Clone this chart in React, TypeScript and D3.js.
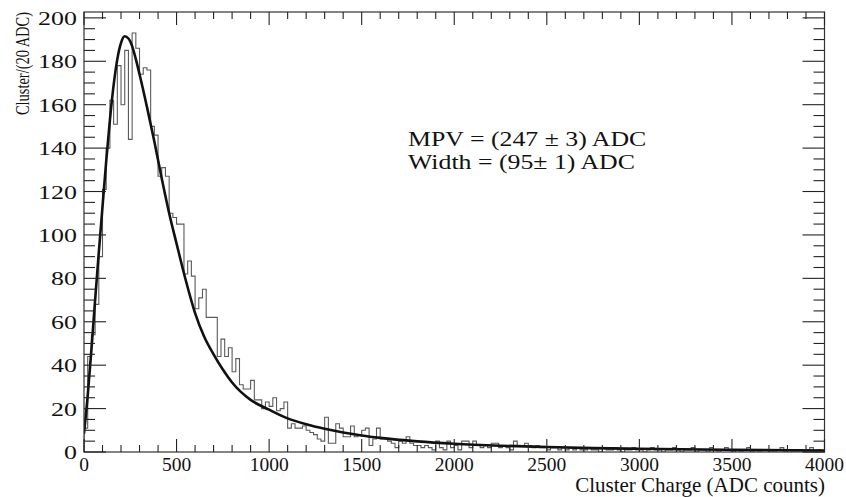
import React from "react";
import * as d3 from "d3";

// ---- data ----
const binWidth = 20;
const xDomain = [0, 4000];
const yDomain = [0, 202.7];

// counts per 20-ADC bin, 0..4000
const countsPeak = [11, 44, 54, 68, 90, 121, 140, 162, 151, 178, 160, 185, 144, 193, 186, 174, 177, 176, 150, 146,
  127, 131, 127, 110, 108, 105, 105, 82, 88, 81, 66, 71, 75, 62, 62, 62, 44, 52, 44, 48];
const countsShoulder = [37, 43, 31, 29, 29, 33, 24, 24, 20, 23, 21, 25, 19, 20, 23, 11, 13, 11, 11, 12,
  10, 9, 8, 6, 5, 16, 4, 4, 13, 11, 7, 7, 12, 7, 8, 10, 11, 3, 6, 11,
  6, 6, 5, 4, 2, 5, 4, 7, 4, 3, 3, 2, 3, 2, 1, 5, 2, 1, 5, 2];
const countsTail = [3, 1, 5, 5, 2, 5, 3, 2, 3, 2, 4, 4, 2, 3, 2, 1, 5, 3, 3, 4,
  3, 2, 3, 2, 2, 1, 2, 2, 1, 2, 1, 2, 1, 2, 1, 1, 2, 1, 1, 0,
  2, 1, 1, 2, 1, 0, 1, 1, 2, 1, 1, 0, 1, 2, 1, 1, 0, 1, 1, 2];
const countsFar = [1, 0, 1, 1, 2, 0, 1, 1, 0, 2, 1, 0, 1, 2, 1, 0, 1, 0, 1, 2,
  0, 1, 0, 1, 1, 0, 0, 1, 2, 0, 1, 0, 0, 1, 0, 1, 2, 0, 1, 0];

// Landau fit curve, read at these charges
const fitCharge = [0, 20, 40, 60, 80, 100, 120, 140, 160, 180, 200, 220, 240, 260, 280, 300, 340, 380, 420, 460, 500,
  550, 600, 650, 700, 750, 800, 900, 1000, 1100, 1200, 1300, 1400, 1500, 1600, 1800, 2000, 2250, 2500, 2750, 3000, 3500, 4000];
const fitValue = [8.5, 26, 47, 70, 92, 113, 134, 153, 169, 181, 188.5, 191.5, 190.5, 187, 181, 174, 159, 143, 126, 110, 96,
  79, 64, 53, 45, 38, 32, 24, 19.5, 15.5, 12.8, 10.7, 9, 7.6, 6.5, 4.9, 3.8, 2.9, 2.3, 1.8, 1.5, 1.0, 0.7];

const xMajorTicks = [0, 500, 1000, 1500, 2000, 2500, 3000, 3500, 4000];
const yMajorTicks = [0, 20, 40, 60, 80, 100, 120, 140, 160, 180, 200];
const xMinorStep = 100;
const yMinorStep = 5;

const xTitle = "Cluster Charge (ADC counts)";
const yTitle = "Cluster/(20 ADC)";
const fitLabels = ["MPV = (247 \u00b1 3) ADC", "Width = (95\u00b1 1) ADC"];

const FONT = "'Liberation Serif', 'Times New Roman', Times, serif";

export default function App() {
  const W = 846;
  const H = 497;
  const L = 84, R = 824.5, T = 12, B = 452;

  const x = d3.scaleLinear().domain(xDomain).range([L, R]);
  const y = d3.scaleLinear().domain(yDomain).range([B, T]);

  const counts = [...countsPeak, ...countsShoulder, ...countsTail, ...countsFar];
  const histPts: [number, number][] = [[0, 0]];
  counts.forEach((c, i) => histPts.push([i * binWidth, c]));
  histPts.push([counts.length * binWidth, counts[counts.length - 1]]);
  histPts.push([counts.length * binWidth, 0]);
  const histLine = d3
    .line<[number, number]>()
    .x((d) => x(d[0]))
    .y((d) => y(d[1]))
    .curve(d3.curveStepAfter);

  const fitPts: [number, number][] = fitCharge.map((c, i) => [c, fitValue[i]]);
  const fitLine = d3
    .line<[number, number]>()
    .x((d) => x(d[0]))
    .y((d) => y(d[1]))
    .curve(d3.curveMonotoneX);

  const xMinor = d3.range(xDomain[0], xDomain[1] + 1, xMinorStep).filter((v) => v % 500 !== 0);
  const yMinor = d3.range(0, yDomain[1], yMinorStep).filter((v) => v % 20 !== 0);

  const xMajLen = 13, xMinLen = 7, yMajLen = 22, yMinLen = 11;
  const tickColor = "#222";

  return (
    <svg width={W} height={H} style={{ position: "absolute", left: 0, top: 0, background: "#fff" }}>
      <defs>
        <clipPath id="plotClip">
          <rect x={L} y={T} width={R - L} height={B - T} />
        </clipPath>
      </defs>
      <rect x={0} y={0} width={W} height={H} fill="#fff" />

      {/* histogram */}
      <path d={histLine(histPts) || ""} fill="none" stroke="#5a5a5a" strokeWidth={1.1} clipPath="url(#plotClip)" />
      {/* fit */}
      <path d={fitLine(fitPts) || ""} fill="none" stroke="#111" strokeWidth={2.6} clipPath="url(#plotClip)" />

      {/* frame */}
      <rect x={L} y={T} width={R - L} height={B - T} fill="none" stroke="#333" strokeWidth={1.2} />

      {/* x ticks bottom & top */}
      {xMajorTicks.map((v) => (
        <g key={"xm" + v}>
          <line x1={x(v)} x2={x(v)} y1={B} y2={B - xMajLen} stroke={tickColor} strokeWidth={1.1} />
          <line x1={x(v)} x2={x(v)} y1={T} y2={T + xMajLen} stroke={tickColor} strokeWidth={1.1} />
        </g>
      ))}
      {xMinor.map((v) => (
        <g key={"xn" + v}>
          <line x1={x(v)} x2={x(v)} y1={B} y2={B - xMinLen} stroke={tickColor} strokeWidth={1.1} />
          <line x1={x(v)} x2={x(v)} y1={T} y2={T + xMinLen} stroke={tickColor} strokeWidth={1.1} />
        </g>
      ))}
      {/* y ticks left & right */}
      {yMajorTicks.map((v) => (
        <g key={"ym" + v}>
          <line x1={L} x2={L + yMajLen} y1={y(v)} y2={y(v)} stroke={tickColor} strokeWidth={1.1} />
          <line x1={R} x2={R - yMajLen} y1={y(v)} y2={y(v)} stroke={tickColor} strokeWidth={1.1} />
        </g>
      ))}
      {yMinor.map((v) => (
        <g key={"yn" + v}>
          <line x1={L} x2={L + yMinLen} y1={y(v)} y2={y(v)} stroke={tickColor} strokeWidth={1.1} />
          <line x1={R} x2={R - yMinLen} y1={y(v)} y2={y(v)} stroke={tickColor} strokeWidth={1.1} />
        </g>
      ))}

      {/* x tick labels */}
      {xMajorTicks.map((v) => (
        <text key={"xl" + v} x={x(v)} y={471} textAnchor="middle" fontFamily={FONT} fontSize={19.5} fill="#111">
          {String(v)}
        </text>
      ))}
      {/* y tick labels (horizontally widened as in the reference) */}
      {yMajorTicks.map((v) => {
        const s = String(v);
        return (
          <text
            key={"yl" + v}
            transform={`translate(77, ${y(v) + 7}) scale(1.33, 1)`}
            x={0}
            y={0}
            textAnchor="end"
            fontFamily={FONT}
            fontSize={19.5}
            fill="#111"
          >
            {s}
          </text>
        );
      })}

      {/* axis titles */}
      <text x={825} y={492} textAnchor="end" fontFamily={FONT} fontSize={21} fill="#111">
        {xTitle}
      </text>
      <text
        transform={`translate(29, 115) rotate(-90) scale(0.78, 1)`}
        x={0}
        y={0}
        fontFamily={FONT}
        fontSize={18.5}
        fill="#111"
      >
        {yTitle}
      </text>

      {/* fit annotation */}
      <text transform="translate(408, 146) scale(1.26, 1)" x={0} y={0} fontFamily={FONT} fontSize={20.5} fill="#111">
        {fitLabels[0]}
      </text>
      <text transform="translate(408, 169) scale(1.26, 1)" x={0} y={0} fontFamily={FONT} fontSize={20.5} fill="#111">
        {fitLabels[1]}
      </text>
    </svg>
  );
}
